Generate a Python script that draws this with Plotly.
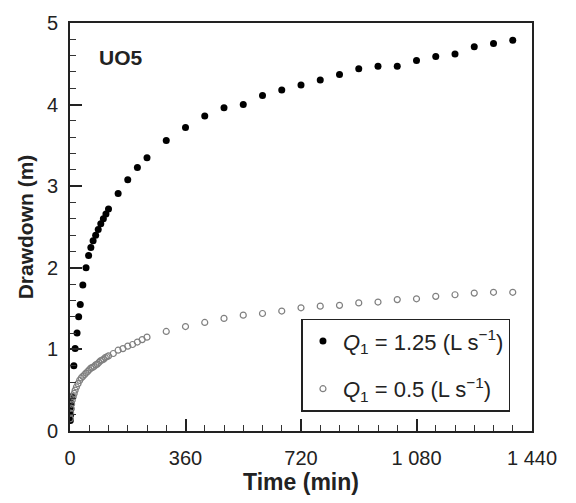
import plotly.graph_objects as go

# Q1 = 1.25 L/s (filled)
t_high = [1, 2, 3, 4, 6, 12, 16, 22, 27, 32, 40, 50, 58, 65, 72, 80, 88, 96, 104, 112, 120,
          150, 180, 210, 240, 300, 360, 420, 480, 540, 600, 660, 720, 780, 840, 900, 960,
          1020, 1080, 1140, 1200, 1260, 1320, 1380]
s_high = [0.13, 0.20, 0.27, 0.34, 0.42, 0.80, 1.01, 1.20, 1.40, 1.55, 1.79, 2.00, 2.15, 2.25,
          2.33, 2.40, 2.47, 2.54, 2.60, 2.66, 2.72,
          2.91, 3.08, 3.23, 3.35, 3.56, 3.72, 3.86, 3.96, 4.00, 4.11, 4.18, 4.24, 4.30, 4.37,
          4.44, 4.47, 4.47, 4.54, 4.59, 4.62, 4.71, 4.75, 4.79]

# Q1 = 0.5 L/s (open)
t_low = [1, 2, 3, 5, 7, 10, 13, 16, 20, 25, 30, 35, 40, 45, 50, 55, 60, 65, 70, 75, 80, 85,
         90, 95, 100, 105, 110, 115, 120, 135, 150, 165, 180, 195, 210, 225, 240,
         300, 360, 420, 480, 540, 600, 660, 720, 780, 840, 900, 960, 1020, 1080, 1140,
         1200, 1260, 1320, 1380]
s_low = [0.15, 0.22, 0.28, 0.33, 0.38, 0.42, 0.46, 0.50, 0.54, 0.58, 0.62, 0.65, 0.67, 0.69,
         0.71, 0.73, 0.75, 0.77, 0.78, 0.79, 0.81, 0.82, 0.84, 0.86, 0.87, 0.88, 0.90, 0.91,
         0.92, 0.95, 0.99, 1.01, 1.04, 1.06, 1.09, 1.12, 1.15,
         1.22, 1.28, 1.33, 1.38, 1.42, 1.44, 1.47, 1.51, 1.53, 1.54, 1.57, 1.58, 1.61, 1.62,
         1.65, 1.67, 1.69, 1.70, 1.70]

x_tickvals = [0, 360, 720, 1080, 1440]
x_ticktext = ["0", "360", "720", "1 080", "1 440"]
y_tickvals = [0, 1, 2, 3, 4, 5]

FONT = "Liberation Sans, Arial, sans-serif"

fig = go.Figure()
fig.add_trace(go.Scatter(
    x=t_high, y=s_high, mode="markers", legendgroup="a",
    name="<i>Q</i><sub>1</sub> = 1.25 (L s<sup>\u22121</sup>)",
    marker=dict(symbol="circle", size=7, color="black"),
))
fig.add_trace(go.Scatter(
    x=t_low, y=s_low, mode="markers", legendgroup="b",
    name="<i>Q</i><sub>1</sub> = 0.5 (L s<sup>\u22121</sup>)",
    marker=dict(symbol="circle-open", size=6, color="#808080", line=dict(width=1.2)),
))

fig.update_layout(
    width=576, height=503,
    margin=dict(l=70, r=44, t=16, b=72),
    paper_bgcolor="white", plot_bgcolor="white",
    font=dict(family=FONT, color="#222222", size=18),
    showlegend=True,
    legend=dict(
        x=0.501, y=0.275, xanchor="left", yanchor="top",
        bordercolor="#222222", borderwidth=1.5, bgcolor="white",
        font=dict(size=22, family=FONT),
        itemsizing="trace", tracegroupgap=16, itemwidth=30,
    ),
    annotations=[dict(
        x=0.058, y=0.915, xref="paper", yref="paper", xanchor="left", yanchor="middle",
        text="<b>UO5</b>", showarrow=False, font=dict(size=21, family=FONT, color="#222222"),
    )],
)

fig.update_xaxes(
    range=[0, 1440], tickvals=x_tickvals, ticktext=x_ticktext,
    ticks="inside", ticklen=12, tickwidth=1.5, tickcolor="#222222",
    minor=dict(dtick=60, ticks="inside", ticklen=6, tickwidth=1.2, tickcolor="#333333"),
    showline=True, linewidth=2, linecolor="#222222", mirror=True,
    showgrid=False, zeroline=False, ticklabelstandoff=8,
    tickfont=dict(size=20, family=FONT),
    title=dict(text="<b>Time (min)</b>", font=dict(size=23, family=FONT), standoff=6),
)
fig.update_yaxes(
    range=[0, 5], tickvals=y_tickvals,
    ticks="inside", ticklen=12, tickwidth=1.5, tickcolor="#222222",
    minor=dict(dtick=0.2, ticks="inside", ticklen=6, tickwidth=1.2, tickcolor="#333333"),
    showline=True, linewidth=2, linecolor="#222222", mirror=True,
    showgrid=False, zeroline=False, ticklabelstandoff=6,
    tickfont=dict(size=20, family=FONT),
    title=dict(text="<b>Drawdown (m)</b>", font=dict(size=21, family=FONT), standoff=8),
)

fig.write_html("out.html")
